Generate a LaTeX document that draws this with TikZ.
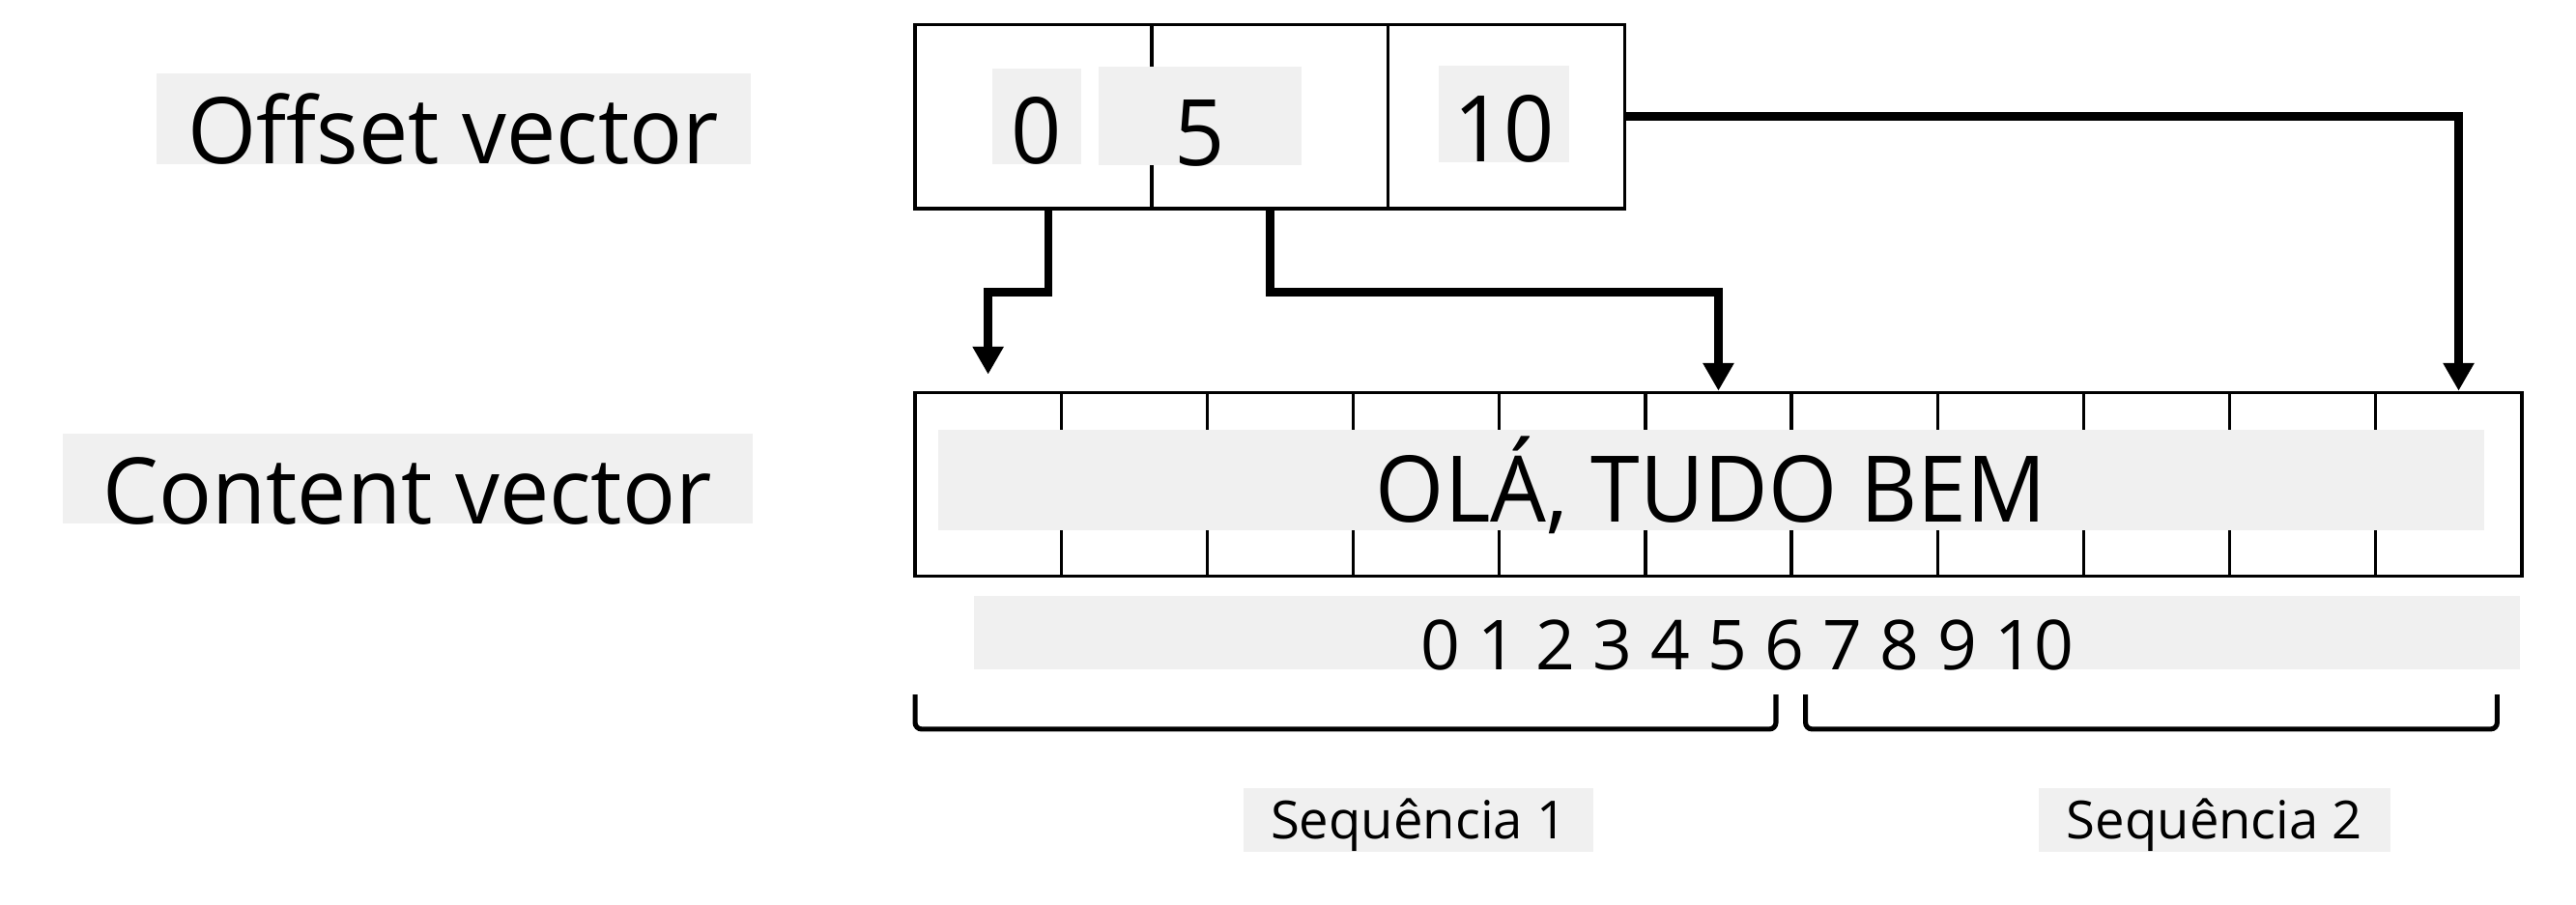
\documentclass[tikz,border=0pt]{standalone}
\usepackage{fontspec}
\setmainfont{Open Sans}
\newfontfamily\condfam[FakeStretch=0.96]{Open Sans}
\usetikzlibrary{arrows.meta,positioning}
\definecolor{labelbg}{RGB}{240,240,240}
\newcommand{\vecfont}{\condfam\fontsize{56}{60}\selectfont}
\newcommand{\idxfont}{\fontsize{42}{46}\selectfont}
\newcommand{\seqfont}{\fontsize{32}{36}\selectfont}
\tikzset{
cell/.style={
	% The shape:
	rectangle,
	% The size:
	minimum height=112pt,
	inner sep=0pt,
	% The border:
	draw=black,
	line width=2pt,
	anchor=north west
},
tag/.style={
	% grey strip behind a text,
	% its bottom sits on the base line
	fill=labelbg,
	inner xsep=0pt,
	inner ysep=0pt,
	text depth=0pt,
	anchor=south
},
pointer/.style={line width=5pt, -{Triangle[length=17pt,width=18pt]}},
brace/.style={line width=3pt, rounded corners=4pt}
}

\begin{document}
\begin{tikzpicture}[x=1pt, y=-1pt]
			\useasboundingbox (0,0) rectangle (1568,551);

			% offset vector
			\foreach \i in {0,1,2}
				\node [cell, minimum width=144pt] (o\i) at ({556+144*\i},14) {};

			% content vector
			\foreach \i in {0,...,10}
				\node [cell, minimum width=88.909pt] (c\i) at ({556+88.909*\i},238) {};

			\node [tag, minimum width=362pt, text height=55pt, font=\vecfont] (offlbl) at (276,100) {Offset vector};
			\node [tag, minimum width=420pt, text height=55pt, font=\vecfont] (conlbl) at (248,319) {Content vector};

			\node [tag, minimum width=54pt, text height=58pt, font=\vecfont] (n0) at (631,100) {0};
			\node [tag, minimum width=123pt, text height=60pt, font=\vecfont] (n5) at (730.5,101) {5};
			\node [tag, minimum width=79pt, text height=59pt, font=\vecfont] (n10) at (915.5,99) {10};

			\node [tag, minimum width=941pt, text height=56pt, text depth=5pt, font=\vecfont] (txt) at (1041.5,323) {OLÁ, TUDO BEM};
			\node [tag, minimum width=941pt, text height=45pt, font=\idxfont] (idx) at (1063.5,408) {0 1 2 3 4 5 6 7 8 9 10};

			\node [tag, minimum width=213pt, text height=31pt, text depth=8pt, font=\seqfont] (seq1) at (863.5,519) {Sequência 1};
			\node [tag, minimum width=214pt, text height=31pt, text depth=8pt, font=\seqfont] (seq2) at (1348,519) {Sequência 2};

			% pointers
			\coordinate (elbow) at (0,178);
			\coordinate (o0out) at ([xshift=9pt]o0.south);
			\draw [pointer, shorten >=10pt] (o0out) |- (c0.north |- elbow) -- (c0.north);
			\draw [pointer] (o1.south) |- (c5.north |- elbow) -- (c5.north);
			\draw [pointer] (o2.east) -| ([xshift=6pt]c10.north);

			% brackets
			\draw [brace] (557,423) -- (557,444) -- (1081,444) -- (1081,423);
			\draw [brace] (1099,423) -- (1099,444) -- (1520,444) -- (1520,423);
		\end{tikzpicture}
\end{document}
